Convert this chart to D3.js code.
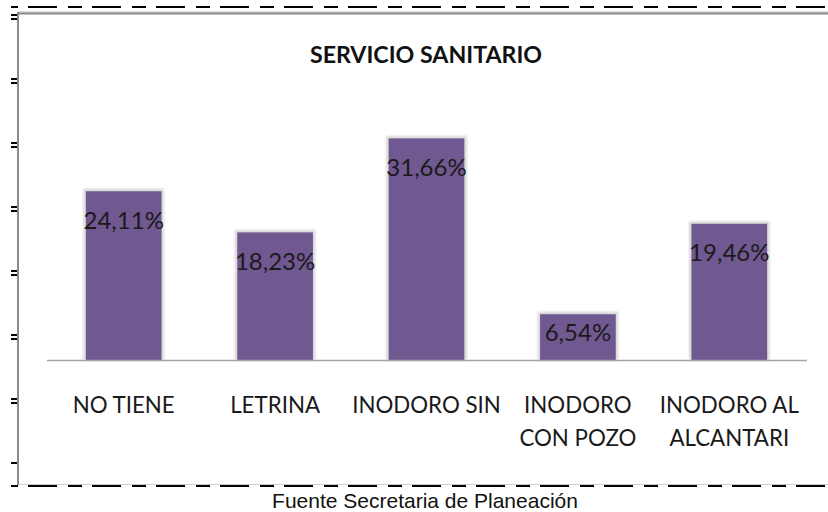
<!DOCTYPE html>
<html>
<head>
<meta charset="utf-8">
<script src="https://cdn.jsdelivr.net/npm/d3@7/dist/d3.min.js"></script>
<style>
  html, body { margin: 0; padding: 0; background: #fff; }
  svg { display: block; }
  .cat, .val, .title { font-family: Lato, "Open Sans", sans-serif; }
  .foot { font-family: "Liberation Sans", Arial, sans-serif; }
</style>
</head>
<body>
<div id="chart"></div>
<script>
// Data
const categories = ["NO TIENE", "LETRINA", "INODORO SIN", "INODORO CON POZO", "INODORO AL ALCANTARI"];
const catLines   = [["NO TIENE"], ["LETRINA"], ["INODORO SIN"], ["INODORO", "CON POZO"], ["INODORO AL", "ALCANTARI"]];
const values     = [24.11, 18.23, 31.66, 6.54, 19.46];
const valueLabels = ["24,11%", "18,23%", "31,66%", "6,54%", "19,46%"];
const titleText  = "SERVICIO SANITARIO";
const sourceText = "Fuente Secretaria de Planeación";

(function () {
  const W = 828, H = 512;
  const BAR = "#705890";

  const svg = d3.select("#chart").append("svg")
    .attr("width", W).attr("height", H).attr("viewBox", `0 0 ${W} ${H}`);

  svg.append("rect").attr("width", W).attr("height", H).attr("fill", "#fff");

  const defs = svg.append("defs");
  defs.append("filter").attr("id", "halo").attr("x", "-20%").attr("y", "-20%")
    .attr("width", "140%").attr("height", "140%")
    .append("feGaussianBlur").attr("stdDeviation", 1.2);

  // Page decoration: dashed rules and left ruler marks
  const dash = "29,11,14,10";
  svg.append("line").attr("x1", 18).attr("x2", W).attr("y1", 484.5).attr("y2", 484.5)
    .attr("stroke", "#cfcfcf").attr("stroke-width", 1);
  [7, 486].forEach(yy => {
    svg.append("line").attr("x1", 11).attr("x2", W).attr("y1", yy).attr("y2", yy)
      .attr("stroke", "#000").attr("stroke-width", 2)
      .attr("shape-rendering", "crispEdges")
      .attr("stroke-dasharray", dash).attr("stroke-dashoffset", 47);
  });

  // Chart frame (left + top)
  svg.append("line").attr("x1", 18).attr("x2", W).attr("y1", 12).attr("y2", 12)
    .attr("stroke", "#bdbdbd").attr("stroke-width", 1);
  svg.append("line").attr("x1", 17).attr("x2", W).attr("y1", 13.5).attr("y2", 13.5)
    .attr("stroke", "#8a8a8a").attr("stroke-width", 2);
  svg.append("line").attr("x1", 18).attr("x2", 18).attr("y1", 12).attr("y2", 485)
    .attr("stroke", "#8a8a8a").attr("stroke-width", 2);

  const marks = svg.append("g").attr("shape-rendering", "crispEdges");
  d3.range(8).forEach(i => {
    const yy = 14 + i * 64;
    marks.append("rect").attr("x", 11).attr("y", yy).attr("width", 6).attr("height", 2).attr("fill", "#000");
    if (i < 7) marks.append("rect").attr("x", 11).attr("y", yy + 4).attr("width", 6).attr("height", 2).attr("fill", "#000");
  });

  // Scales
  const x = d3.scaleBand().domain(categories).range([48, 805])
    .paddingInner(0.5).paddingOuter(0.25);
  const y = d3.scaleLinear().domain([0, 35]).range([360, 115]);

  const g = svg.append("g");

  // Title
  g.append("text").attr("class", "title")
    .attr("x", 426).attr("y", 54).attr("text-anchor", "middle")
    .attr("dominant-baseline", "central")
    .attr("font-size", "23.2px").attr("font-weight", "bold").attr("fill", "#111")
    .text(titleText);

  const data = categories.map((c, i) => ({ c, v: values[i], label: valueLabels[i], lines: catLines[i] }));

  // Bar halos
  g.selectAll(".halo").data(data).join("rect")
    .attr("class", "halo")
    .attr("x", d => x(d.c) - 2.5).attr("y", d => y(d.v) - 2.5)
    .attr("width", x.bandwidth() + 5).attr("height", d => y(0) - y(d.v) + 2.5)
    .attr("fill", "#d9d9d9").attr("filter", "url(#halo)");

  // Bars
  g.selectAll(".bar").data(data).join("rect")
    .attr("class", "bar")
    .attr("x", d => x(d.c)).attr("y", d => y(d.v))
    .attr("width", x.bandwidth()).attr("height", d => y(0) - y(d.v))
    .attr("fill", BAR);

  // Baseline
  g.append("line").attr("x1", 47).attr("x2", 807).attr("y1", y(0) + 0.5).attr("y2", y(0) + 0.5)
    .attr("stroke", "#a6a6a6").attr("stroke-width", 1.5);

  // Value labels
  g.selectAll(".val").data(data).join("text")
    .attr("class", "val")
    .attr("x", d => x(d.c) + x.bandwidth() / 2)
    .attr("y", d => y(d.v) + Math.min(28, (y(0) - y(d.v)) / 2 - 6))
    .attr("text-anchor", "middle").attr("dominant-baseline", "central")
    .attr("font-size", "24px").attr("fill", "#1a1a1a")
    .text(d => d.label);

  // Category labels
  const cl = g.selectAll(".cat").data(data).join("text")
    .attr("class", "cat")
    .attr("x", d => x(d.c) + x.bandwidth() / 2)
    .attr("text-anchor", "middle")
    .attr("font-size", "22.3px").attr("fill", "#1a1a1a");
  cl.selectAll("tspan").data(d => d.lines.map(t => ({ t, cx: x(d.c) + x.bandwidth() / 2 }))).join("tspan")
    .attr("x", d => d.cx)
    .attr("y", (d, i) => 413 + i * 33)
    .text(d => d.t);

  // Source
  svg.append("text").attr("class", "foot")
    .attr("x", 425).attr("y", 508).attr("text-anchor", "middle")
    .attr("font-size", "21px").attr("fill", "#111")
    .text(sourceText);
})();
</script>
</body>
</html>
